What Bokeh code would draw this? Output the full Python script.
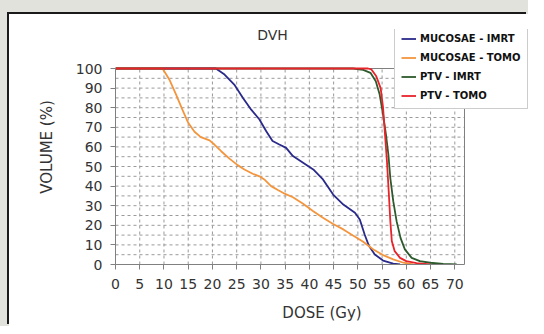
from bokeh.plotting import figure
from bokeh.models import FixedTicker, Legend, LegendItem, Label, Range1d
from bokeh.embed import file_html
from bokeh.resources import INLINE

# ---- data ----
x_ticks = [0, 5, 10, 15, 20, 25, 30, 35, 40, 45, 50, 55, 60, 65, 70]
y_ticks = [0, 10, 20, 30, 40, 50, 60, 70, 80, 90, 100]
x_axis_max = 72
y_axis_max = 100

mucosae_imrt_dose = [0, 20.7, 22.5, 24.5, 26.3, 28.0, 29.7, 31.1, 32.4, 33.8, 35.2, 36.6, 38.7,
                     40.8, 42.8, 44.9, 47.0, 49.4, 50.4, 51.4, 52.3, 53.5, 55.2, 57.3, 58.7]
mucosae_imrt_vol = [100, 100, 96.9, 91.8, 85.0, 79.0, 74.0, 68.0, 63.0, 61.2, 59.5, 55.3, 51.9,
                    48.5, 43.4, 35.7, 30.6, 26.4, 23.0, 15.3, 9.4, 5.1, 2.0, 0.5, 0]

mucosae_tomo_dose = [0, 9.7, 11.1, 12.5, 13.8, 15.0, 16.3, 17.6, 19.4, 20.4, 21.8, 23.5, 25.2,
                     26.6, 28.3, 29.7, 30.7, 32.1, 33.5, 35.0, 36.6, 38.7, 40.8, 42.8, 44.9,
                     47.0, 49.0, 51.1, 53.2, 55.2, 57.3, 59.4, 61.4]
mucosae_tomo_vol = [100, 100, 94.4, 86.7, 79.0, 72.3, 67.7, 65.0, 63.3, 61.2, 57.8, 54.0, 50.7,
                    48.5, 46.3, 45.0, 43.4, 40.0, 38.0, 36.0, 34.3, 31.0, 27.2, 23.8, 20.7,
                    17.9, 14.8, 11.6, 7.7, 4.8, 2.6, 0.9, 0]

ptv_imrt_dose = [0, 49.0, 51.1, 52.6, 53.7, 54.5, 55.2, 55.8, 56.3, 56.7, 57.3, 58.0, 58.8,
                 59.7, 61.1, 62.8, 64.9, 67.6, 70.4]
ptv_imrt_vol = [100, 100, 99.3, 97.8, 93.5, 86.7, 76.5, 66.3, 56.0, 44.0, 32.3, 22.0, 13.6,
                7.7, 3.4, 1.7, 0.9, 0.3, 0]

ptv_tomo_dose = [0, 52.1, 52.8, 53.8, 54.7, 55.2, 55.6, 56.0, 56.4, 56.7, 57.0, 57.6, 58.7,
                 60.0, 62.1, 64.9]
ptv_tomo_vol = [100, 100, 99.5, 96.0, 90.0, 80.0, 66.3, 52.7, 35.7, 22.0, 12.0, 6.8, 3.4,
                1.7, 0.7, 0]

series_names = ["MUCOSAE - IMRT", "MUCOSAE - TOMO", "PTV - IMRT", "PTV - TOMO"]
series_colors = ["#2a2a8a", "#f4953d", "#2c5a2c", "#e8232a"]

FONT = "DejaVu Sans"
GRAY = "#808080"
TXT = "#333333"

W, H = 519, 312
ML, MB, MT = 106, 62, 15
px_per_x = 349 / x_axis_max
px_per_y = 196 / y_axis_max

p = figure(width=W, height=H,
           x_range=Range1d(0, (W - ML) / px_per_x),
           y_range=Range1d(0, (H - MB - MT) / px_per_y),
           output_backend="svg", toolbar_location=None,
           min_border_left=ML, min_border_right=0, min_border_top=MT, min_border_bottom=MB)

p.styles = {"margin-left": "9px", "margin-top": "14px",
            "box-shadow": "-2px -2px 0 0 #1a1a1a, -10px -10px 0 10px #e2e2dd"}
p.border_fill_color = "white"
p.background_fill_color = "white"
p.outline_line_color = None
p.grid.visible = False

# axes
for ax in (p.xaxis[0], p.yaxis[0]):
    ax.axis_line_color = GRAY
    ax.major_tick_line_color = GRAY
    ax.minor_tick_line_color = None
    ax.major_tick_out = 5
    ax.major_tick_in = 0
    ax.major_label_text_font = FONT
    ax.major_label_text_font_size = "14px"
    ax.major_label_text_color = TXT
    ax.axis_label_text_font = FONT
    ax.axis_label_text_font_size = "15px"
    ax.axis_label_text_font_style = "normal"
    ax.axis_label_text_color = TXT

p.xaxis.ticker = FixedTicker(ticks=x_ticks)
p.yaxis.ticker = FixedTicker(ticks=y_ticks)
p.xaxis.bounds = (0, x_axis_max)
p.yaxis.bounds = (0, y_axis_max)
p.xaxis.axis_label = "DOSE (Gy)"
p.yaxis.axis_label = "VOLUME (%)"
p.xaxis.major_label_standoff = 9
p.yaxis.major_label_standoff = 8
p.xaxis.axis_label_standoff = 12
p.yaxis.axis_label_standoff = 17

# dotted grid inside the plot box
vgrid = x_ticks[1:]
hgrid = list(range(5, y_axis_max, 5))
p.segment(x0=vgrid, x1=vgrid, y0=[0] * len(vgrid), y1=[y_axis_max] * len(vgrid),
          line_color="#9a9a9a", line_dash="3 3", line_width=1)
p.segment(x0=[0] * len(hgrid), x1=[x_axis_max] * len(hgrid), y0=hgrid, y1=hgrid,
          line_color="#9a9a9a", line_dash="3 3", line_width=1)
# plot box (top and right edges)
p.quad(left=[0], right=[x_axis_max], bottom=[0], top=[y_axis_max],
       fill_alpha=0, line_color=GRAY, line_width=1)

xs = [mucosae_imrt_dose, mucosae_tomo_dose, ptv_imrt_dose, ptv_tomo_dose]
ys = [mucosae_imrt_vol, mucosae_tomo_vol, ptv_imrt_vol, ptv_tomo_vol]

items = []
for name, color, x, y in zip(series_names, series_colors, xs, ys):
    r = p.line(x, y, line_color=color, line_width=1.8)
    items.append(LegendItem(label=name, renderers=[r]))

# title
title = Label(x=263, y=20, x_units="canvas", y_units="canvas", text="DVH",
              text_align="center", text_baseline="middle",
              text_font=FONT, text_font_size="14px", text_color=TXT)
p.add_layout(title)

legend = Legend(items=items, location=(279, 155))
legend.label_text_font = FONT
legend.label_text_font_size = "10px"
legend.label_text_font_style = "bold"
legend.label_text_color = "#111111"
legend.label_height = 13
legend.glyph_height = 13
legend.glyph_width = 15
legend.label_standoff = 4
legend.spacing = 6
legend.padding = 6
legend.border_line_color = "#999999"
legend.border_line_width = 1
legend.background_fill_color = "white"
legend.background_fill_alpha = 1.0
p.add_layout(legend, "center")

open("out.html", "w").write(file_html(p, INLINE))
